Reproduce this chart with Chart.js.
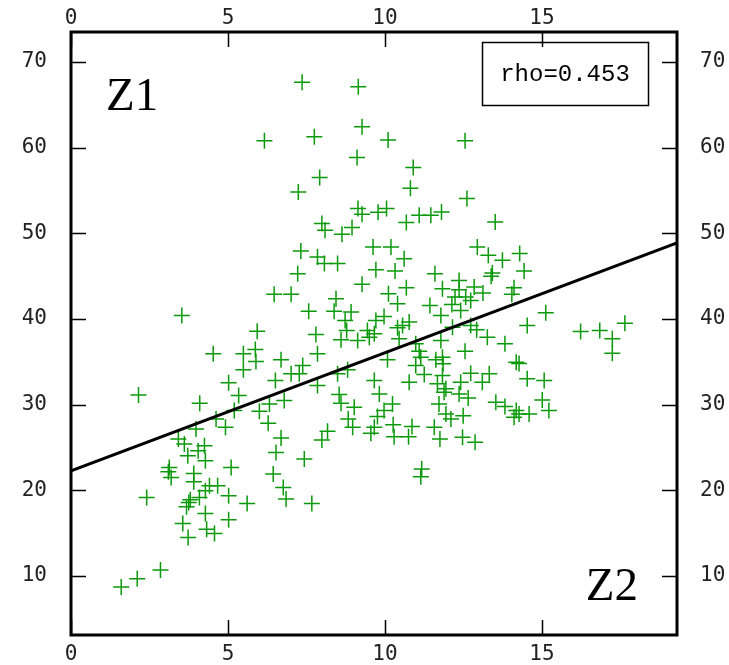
<!DOCTYPE html>
<html>
<head>
<meta charset="utf-8">
<title>Z1 vs Z2</title>
<script src="https://cdn.jsdelivr.net/npm/chart.js@4.4.1/dist/chart.umd.min.js"></script>
<style>
    html, body { margin: 0; padding: 0; background: #fff; }
    canvas { display: block; }
</style>
</head>
<body>
<canvas id="grafico" width="729" height="665"></canvas>
<script>
// --- 1. DATOS ---
const z2 = [7.36,9.15,9.27,7.75,6.16,10.10,12.55,9.11,10.90,7.92,10.81,7.24,12.61,9.14,9.27,9.78,10.05,10.68,11.09,11.46,
    11.80,13.51,7.99,8.09,8.63,8.95,9.62,10.19,7.32,7.85,8.49,8.07,10.61,9.71,10.32,11.59,7.22,9.27,10.68,11.83,
    10.11,6.47,7.01,8.44,10.40,11.43,11.78,7.57,8.38,8.92,9.97,9.71,8.73,10.56,10.77,10.40,8.78,9.44,9.66,7.80,
    8.60,9.13,9.50,10.45,10.98,11.78,11.09,7.85,11.14,11.83,11.62,6.69,10.08,7.38,10.98,7.01,7.27,8.81,8.49,11.25,
    11.83,6.51,9.66,10.77,11.67,7.85,9.82,11.88,8.54,6.79,8.60,9.02,10.24,11.72,9.97,9.76,8.83,8.97,9.66,9.55,
    10.26,10.86,10.75,10.29,11.57,11.94,11.75,8.17,7.99,6.69,6.53,7.43,6.44,6.76,6.85,7.67,11.17,11.14,12.94,13.29,
    13.74,14.29,14.43,13.42,13.38,14.11,14.04,12.36,12.36,12.84,13.12,12.23,12.57,12.73,12.13,12.41,15.12,14.53,16.23,16.84,
    17.24,17.64,17.24,12.73,12.92,12.15,13.26,13.82,12.55,14.18,14.27,11.85,12.73,13.32,13.10,14.53,15.07,12.41,11.94,12.36,
    12.65,15.01,13.53,13.82,14.18,14.27,14.11,14.59,15.22,12.10,12.49,12.47,12.87,3.53,5.93,4.53,5.49,5.87,5.89,5.49,
    5.02,2.15,5.34,4.10,6.32,5.20,6.00,4.62,4.92,6.28,3.98,3.42,3.61,4.25,4.05,3.72,4.28,3.13,3.19,3.91,
    3.91,5.10,4.41,4.67,4.28,5.02,2.41,4.09,3.75,3.68,5.61,4.28,5.02,3.56,4.32,4.57,3.73,2.85,2.11,1.60,
    3.10,3.80];
const z1 = [67.63,67.11,62.43,61.26,60.80,60.88,60.80,58.85,57.68,56.51,55.26,54.83,54.06,52.89,52.22,52.46,52.89,51.25,52.11,52.11,
    52.49,51.32,51.13,50.35,49.88,50.67,48.40,48.40,47.93,47.23,46.46,46.46,47.04,45.75,45.59,45.29,45.29,44.04,43.65,43.53,
    42.95,42.87,42.87,42.36,41.78,41.58,40.41,40.91,40.91,40.80,40.29,39.82,39.82,39.24,39.63,38.97,38.65,38.65,38.27,38.19,
    37.57,37.49,37.87,37.68,37.10,37.49,36.23,35.93,35.53,35.53,35.23,35.23,35.23,34.56,34.56,33.59,33.59,34.06,33.59,33.51,
    33.39,32.81,32.81,32.61,32.42,32.22,31.25,31.44,31.17,30.47,30.15,29.68,30.08,30.08,29.30,28.60,28.33,27.35,27.35,26.64,
    27.66,27.43,26.26,26.26,27.35,28.91,25.99,26.88,25.87,26.11,24.42,23.65,21.89,20.33,18.97,18.46,22.48,21.58,48.40,47.43,
    46.84,47.63,45.59,45.36,44.97,43.65,42.87,44.50,43.42,43.72,43.02,42.55,42.55,42.16,41.70,40.99,40.73,39.24,38.54,38.65,
    37.68,39.51,36.00,39.24,38.74,39.04,37.87,37.10,36.23,34.95,34.80,34.76,33.66,33.59,32.61,33.01,32.81,32.61,31.84,31.25,
    30.78,30.55,30.27,29.77,29.30,28.91,28.51,28.91,29.30,28.33,28.71,26.18,25.59,40.41,38.57,35.93,35.93,36.43,35.03,34.06,
    32.54,31.13,31.05,30.15,30.08,29.30,29.22,28.33,27.35,27.81,27.16,25.99,25.40,25.20,24.62,24.04,23.45,22.67,21.50,21.96,
    20.99,22.67,20.53,20.53,19.94,19.36,19.16,19.16,18.57,18.07,18.46,17.29,16.55,16.12,15.46,14.95,14.48,10.70,9.68,8.71,
    22.16,18.89];

// recta de ajuste: z1 = intercepto + pendiente * z2
const fitIntercept = 22.27;
const fitSlope = 1.378;
const fitX = [0, 19.3];

const xTicks = [0, 5, 10, 15];
const yTicks = [10, 20, 30, 40, 50, 60, 70];
const rhoText = 'rho=0.453';

// --- 2. PUNTOS ---
const puntos = z2.slice(0, Math.min(z2.length, z1.length)).map((x, i) => ({ x: x, y: z1[i] }));
const recta = fitX.map(x => ({ x: x, y: fitIntercept + fitSlope * x }));

const fuenteTicks = { family: '"DejaVu Sans Mono", monospace', size: 21 };

// ejes con tamaño fijo (sin el margen extra que Chart.js añade por las etiquetas)
function ejeX(pos, alto, pad) {
    return {
        type: 'linear', position: pos, min: 0, max: 19.3,
        grid: { display: false, drawTicks: false }, border: { display: false },
        afterBuildTicks: s => { s.ticks = xTicks.map(v => ({ value: v })); },
        afterFit: s => { s.height = alto; s.paddingLeft = 0; s.paddingRight = 0; },
        ticks: { font: fuenteTicks, color: '#222', padding: pad, maxRotation: 0 }
    };
}
function ejeY(pos, ancho, pad) {
    return {
        type: 'linear', position: pos, min: 3.1, max: 73.5,
        grid: { display: false, drawTicks: false }, border: { display: false },
        afterBuildTicks: s => { s.ticks = yTicks.map(v => ({ value: v })); },
        afterFit: s => { s.width = ancho; s.paddingTop = 0; s.paddingBottom = 0; },
        ticks: { font: fuenteTicks, color: '#222', padding: pad }
    };
}

// marco, marcas hacia dentro y textos del panel
const marco = {
    id: 'marco',
    afterDraw(chart) {
        const { ctx, chartArea: a, scales } = chart;
        ctx.save();
        ctx.strokeStyle = '#000';
        ctx.lineWidth = 1.5;
        ctx.beginPath();
        xTicks.forEach(v => {
            const px = Math.round(scales.x.getPixelForValue(v)) + 0.5;
            ctx.moveTo(px, a.bottom); ctx.lineTo(px, a.bottom - 15);
            ctx.moveTo(px, a.top); ctx.lineTo(px, a.top + 15);
        });
        yTicks.forEach(v => {
            const py = Math.round(scales.y.getPixelForValue(v)) + 0.5;
            ctx.moveTo(a.left, py); ctx.lineTo(a.left + 15, py);
            ctx.moveTo(a.right, py); ctx.lineTo(a.right - 15, py);
        });
        ctx.stroke();

        ctx.lineWidth = 3;
        ctx.strokeRect(a.left, a.top, a.right - a.left, a.bottom - a.top);

        // caja del coeficiente
        ctx.lineWidth = 1.5;
        ctx.strokeRect(482.5, 42.5, 166, 63);
        ctx.fillStyle = '#000';
        ctx.font = '24px "Liberation Mono", monospace';
        ctx.textAlign = 'center';
        ctx.textBaseline = 'middle';
        ctx.fillText(rhoText, 565, 75);

        ctx.font = '47px "Liberation Serif", serif';
        ctx.textBaseline = 'alphabetic';
        ctx.textAlign = 'left';
        ctx.fillText('Z1', 106, 110);
        ctx.textAlign = 'right';
        ctx.fillText('Z2', 638, 600);
        ctx.restore();
    }
};

new Chart(document.getElementById('grafico'), {
    data: {
        datasets: [
            {
                type: 'line', data: recta, order: 0,
                borderColor: '#000', borderWidth: 3, pointRadius: 0, fill: false
            },
            {
                type: 'scatter', data: puntos, order: 1,
                pointStyle: 'cross', pointRadius: 8, pointHoverRadius: 8,
                borderColor: '#0a990a', pointBorderWidth: 1.5, backgroundColor: '#0a990a'
            }
        ]
    },
    options: {
        responsive: false,
        animation: false,
        devicePixelRatio: 1,
        layout: { padding: 0, autoPadding: false },
        plugins: { legend: { display: false }, tooltip: { enabled: false } },
        scales: {
            x: ejeX('bottom', 30, 7),
            x2: ejeX('top', 32, 1),
            y: ejeY('left', 71, 24),
            y2: ejeY('right', 52, 23)
        }
    },
    plugins: [marco]
});
</script>
</body>
</html>
